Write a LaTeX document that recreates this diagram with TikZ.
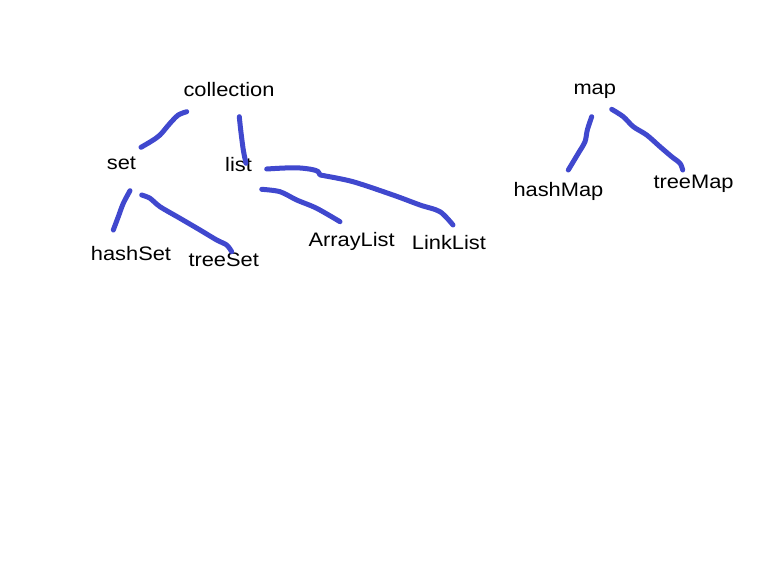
\documentclass[tikz,border=0pt]{standalone}
\usepackage{fontspec}
\setmainfont{Liberation Sans}[FakeStretch=1.12]
\definecolor{pen}{RGB}{64,72,206}
\tikzset{
  lbl/.style={anchor=base west,inner sep=0pt,font=\fontsize{19.5}{24}\selectfont},
  stroke/.style={draw=pen,line width=5pt,line cap=round,line join=round}
}
\begin{document}
\begin{tikzpicture}[x=1pt,y=-1pt]
\useasboundingbox (0,0) rectangle (773,564);
% labels
\node[lbl] (collection) at (183.3,96.7) {collection};
\node[lbl] (set) at (106.7,170) {set};
\node[lbl] (list) at (225,171.7) {list};
\node[lbl] (hashSet) at (90.7,260) {hashSet};
\node[lbl] (treeSet) at (188.3,266) {treeSet};
\node[lbl] (ArrayList) at (308.3,246.7) {ArrayList};
\node[lbl] (LinkList) at (411.7,249) {LinkList};
\node[lbl] (map) at (573.3,95) {map};
\node[lbl] (hashMap) at (513.3,196.7) {hashMap};
\node[lbl] (treeMap) at (653.3,188.3) {treeMap};
% stroke end points
\coordinate (cs1) at (141,147.3);  \coordinate (cs2) at (186.7,111.7);
\coordinate (cl1) at (239.3,116.7); \coordinate (cl2) at (246,163.3);
\coordinate (ll1) at (266.7,169);  \coordinate (ll2) at (453,225);
\coordinate (la1) at (261.7,189.3); \coordinate (la2) at (340,221.7);
\coordinate (sh1) at (130,190.7);  \coordinate (sh2) at (113.3,230);
\coordinate (st1) at (141.7,195);  \coordinate (st2) at (231.7,251.7);
\coordinate (mh1) at (591.7,116.7); \coordinate (mh2) at (568.3,170);
\coordinate (mt1) at (611.7,109.3); \coordinate (mt2) at (682.7,170);
% strokes
\draw[stroke] plot[smooth,tension=0.5] coordinates {(cs1) (151.7,141) (160,135) (170,123.3) (178.3,115) (cs2)};
\draw[stroke] plot[smooth,tension=0.5] coordinates {(cl1) (240.7,130) (243.3,150) (cl2)};
\draw[stroke] plot[smooth,tension=0.5] coordinates {(ll1) (285,168) (300,168) (312,169.5) (318,171.5) (320,175) (323,175.5) (353,181.7) (393,195) (420,205) (440,211.7) (ll2)};
\draw[stroke] plot[smooth,tension=0.5] coordinates {(la1) (280,191.7) (296.7,200) (316.7,208.3) (la2)};
\draw[stroke] plot[smooth,tension=0.5] coordinates {(sh1) (123.3,203.3) (118.3,216.7) (sh2)};
\draw[stroke] plot[smooth,tension=0.5] coordinates {(st1) (150,198.3) (160,206.7) (180,218.3) (200,230) (216.7,240) (226.7,245) (st2)};
\draw[stroke] plot[smooth,tension=0.5] coordinates {(mh1) (587.3,130) (585,141.7) (578.3,153.3) (mh2)};
\draw[stroke] plot[smooth,tension=0.5] coordinates {(mt1) (623.3,116.7) (633.3,126.7) (646.7,135) (660,146.7) (671.7,156.7) (680,163.3) (mt2)};
\end{tikzpicture}
\end{document}
